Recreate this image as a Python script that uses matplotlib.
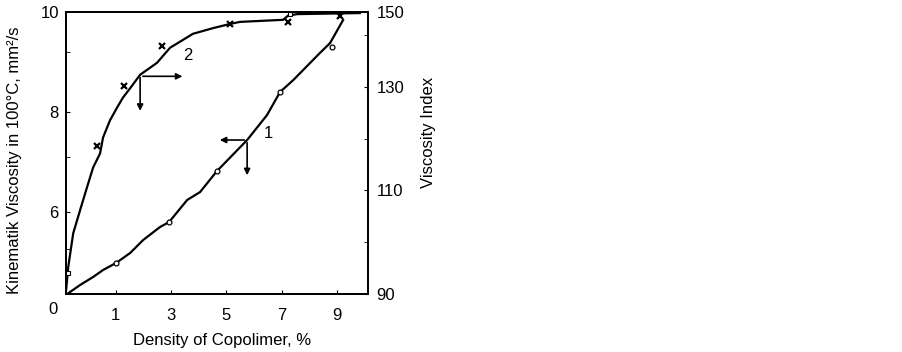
import matplotlib
matplotlib.use("Agg")
import matplotlib.pyplot as plt

plt.rcParams['font.family'] = ['Liberation Sans', 'DejaVu Sans']

# curve 1: kinematic viscosity (left axis)
x1 = [-0.81, -0.29, 0.18, 0.54, 1.01, 1.52, 1.99, 2.60, 2.93, 3.58, 4.05, 4.66,
      5.75, 6.47, 6.94, 7.42, 8.38, 8.75, 9.22]
y1 = [4.34, 4.54, 4.70, 4.84, 4.98, 5.18, 5.44, 5.70, 5.80, 6.24, 6.40, 6.82,
      7.44, 7.94, 8.40, 8.64, 9.18, 9.38, 9.84]
x1_pts = [1.01, 2.93, 4.66, 6.94, 8.82]
y1_pts = [4.98, 5.80, 6.82, 8.40, 9.30]

# curve 2: viscosity index (right axis)
x2 = [-0.81, -0.72, -0.54, -0.29, -0.04, 0.18, 0.43, 0.54, 0.79, 1.05, 1.26, 1.59,
      1.88, 2.49, 2.96, 3.79, 4.52, 5.13, 5.49, 7.05, 7.23, 7.56, 9.83]
y2 = [90.0, 95.2, 101.7, 106.2, 110.6, 114.4, 117.1, 120.2, 123.5, 126.0, 127.9, 130.2,
      132.3, 134.6, 137.5, 140.2, 141.3, 142.1, 142.5, 142.9, 143.7, 144.0, 144.2]
x2_pts = [0.33, 1.30, 2.67, 5.13, 7.23, 9.11]
y2_pts = [118.5, 130.2, 137.9, 142.1, 142.5, 143.7]
x2_open = [-0.74, 7.30]
y2_open = [94.0, 144.0]

xticks = [1, 3, 5, 7, 9]
left_ticks = [6, 8, 10]
right_ticks = [90, 110, 130, 144.4]
right_labels = ['90', '110', '130', '150']

fig = plt.figure(figsize=(9.03, 3.52), dpi=100)
ax = fig.add_axes([0.0728, 0.1648, 0.3347, 0.801])
ax2 = ax.twinx()

ax.plot(x1, y1, color='black', lw=1.6)
ax.plot(x1_pts, y1_pts, 'o', ms=3.5, mfc='white', mec='black', mew=0.9)
ax2.plot(x2, y2, color='black', lw=1.6)
ax2.plot(x2_pts, y2_pts, 'x', ms=4.5, color='black', mew=1.6)
ax2.plot(x2_open, y2_open, 's', ms=3, mfc='white', mec='black', mew=0.8)

ax.set_xlim(-0.81, 10.12)
ax.set_ylim(4.36, 10.0)
ax2.set_ylim(90, 144.4)

ax.set_xticks(xticks)
ax.set_yticks(left_ticks)
ax.set_yticks([5.25, 7.1, 9.2], minor=True)
ax2.set_yticks(right_ticks)
ax2.set_yticklabels(right_labels)
ax2.set_yticks([100, 120, 140], minor=True)

fs = 12
ax.tick_params(axis='x', direction='in', length=3, pad=10, labelsize=fs)
ax.tick_params(axis='y', which='both', direction='in', length=3, pad=5, labelsize=fs)
ax2.tick_params(axis='y', which='both', direction='in', length=3, pad=6, labelsize=fs)
for a in (ax, ax2):
    for s in a.spines.values():
        s.set_linewidth(1.3)

fig.text(53 / 903, 1 - 310 / 352, '0', ha='center', va='center', fontsize=fs)

ax.set_xlabel('Density of Copolimer, %', fontsize=fs)
ax.xaxis.set_label_coords(0.517, -0.138)
ax.set_ylabel('Kinematik Viscosity in 100°C, mm²/s', fontsize=fs)
ax.yaxis.set_label_coords(-0.145, 0.475)
ax2.set_ylabel('Viscosity Index', fontsize=fs)
ax2.yaxis.set_label_coords(1.175, 0.574)

arrow = dict(arrowstyle='-|>', color='black', lw=1.2, mutation_scale=9)
# curve 2 reading arrows
ax2.annotate('', xy=(3.51, 132.0), xytext=(1.88, 132.0), arrowprops=arrow)
ax2.annotate('', xy=(1.88, 124.8), xytext=(1.88, 132.3), arrowprops=arrow)
ax2.text(3.62, 136.0, '2', fontsize=fs, ha='center', va='center')
# curve 1 reading arrows
ax.annotate('', xy=(4.66, 7.44), xytext=(5.75, 7.44), arrowprops=arrow)
ax.annotate('', xy=(5.75, 6.68), xytext=(5.75, 7.44), arrowprops=arrow)
ax.text(6.51, 7.58, '1', fontsize=fs, ha='center', va='center')

fig.savefig('out.png', dpi=100)
